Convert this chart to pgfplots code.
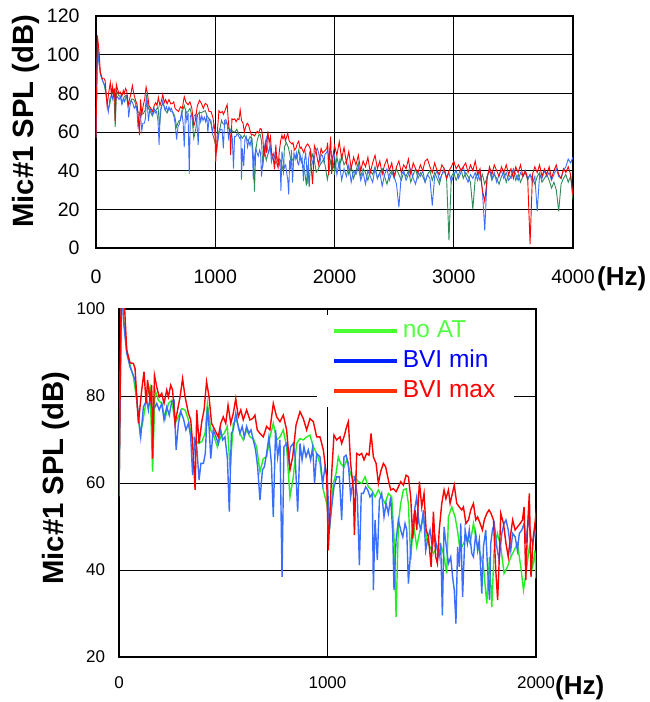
\documentclass[border=0pt]{standalone}
\usepackage{fontspec}
\setmainfont{Liberation Sans}
\usepackage{pgfplots}
\usepackage{pgfplotstable}
\pgfplotsset{compat=1.18}

\definecolor{topred}{HTML}{FF0000}
\definecolor{topblue}{HTML}{3D6EFF}
\definecolor{topgreen}{HTML}{2E8B57}
\definecolor{botgreen}{HTML}{22EE22}
\definecolor{botblue}{HTML}{3A6EFF}
\definecolor{botred}{HTML}{FF0000}
\definecolor{leggreen}{HTML}{4CFF33}
\definecolor{legblue}{HTML}{0022FF}
\definecolor{legred}{HTML}{FF3300}
\definecolor{txtgreen}{HTML}{55FF44}

% spectra, f in Hz, SPL in dB
\pgfplotstableread{
f v
0 57
12 110
25 102
37 90.6
53 87.6
69 87.5
77 86.3
93 73.7
109 81.4
120 85.6
130 78.3
137 83.7
149 79
157 82.5
161 65.6
170 84.8
181 82.1
193 79.8
205 80.6
216 78.3
229 81.4
237 79.8
248 82.5
257 81.4
269 73.7
281 76.8
293 79.8
305 84
317 79.8
333 76
344 74.5
353 69.1
365 58.4
373 76.8
384 69.1
397 74.1
408 76.8
420 83.3
432 79.8
444 73.7
460 72.2
476 70.6
488 73.7
500 75.2
512 73.7
523 77.9
536 73.7
548 76
560 79.4
572 75.2
584 76.8
596 74.5
612 76.8
628 74.5
641 74.8
652 75.6
663 72.2
676 71.4
692 70.6
708 73
724 72.2
740 78.3
756 75.2
772 74.1
788 75.6
804 72.2
820 63
833 66
849 73.3
868 76.4
884 74.8
900 72.2
916 74.8
932 74.1
948 70.6
964 70.6
980 67.6
996 61.4
1004 44.5
1020 62.2
1031 71
1044 69.9
1060 70.6
1068 69.1
1079 70.6
1092 73
1100 74.1
1111 64.5
1124 58.4
1129 48
1140 66.8
1153 66.4
1164 66.8
1175 65.3
1188 66.8
1199 66.4
1209 71.4
1220 66
1233 64.5
1244 59.9
1255 62.6
1268 64.5
1279 63.7
1292 60.7
1303 58.4
1316 58.7
1329 58
1340 59.1
1351 60.3
1364 59.5
1377 61.8
1388 61.4
1399 56.8
1409 47.2
1420 53.8
1428 49.2
1441 60.3
1452 54.5
1463 57.6
1473 49.2
1484 47.6
1497 40.7
1508 53.4
1519 43
1527 41.5
1536 49.2
1548 55.3
1559 58.4
1568 56.4
1580 58.4
1588 55.3
1599 57.6
1608 59.5
1620 55.3
1632 54.5
1644 53.8
1652 54.5
1664 50.7
1676 51.5
1687 53.8
1700 55.3
1711 51.5
1720 52.2
1732 50.7
1743 49.2
1752 51.5
1764 53
1775 53.8
1784 53
1796 51.5
1807 40
1816 33.1
1823 41.5
1831 53
1844 50.7
1856 46.1
1867 43
1879 48.4
1888 51.5
1900 49.2
1911 49.9
1924 50.7
1935 51.5
1943 54.5
1951 37.7
1959 49.2
1968 57.6
1976 38.4
1987 47.6
1995 50.7
2000 53
2020 48
2040 55
2060 46
2080 52
2100 44
2120 50
2140 41
2160 47
2180 43
2200 48
2220 40
2240 45
2260 42
2280 47
2300 39
2320 44
2340 48
2360 41
2380 45
2400 38
2420 43
2440 46
2460 40
2480 44
2500 37
2520 42
2540 45
2560 39
2580 43
2600 41
2620 46
2640 38
2660 44
2680 41
2700 39
2720 43
2740 40
2760 45
2780 46
2800 42
2820 39
2840 44
2860 40
2880 38
2900 43
2920 41
2940 36
2960 40
2980 42
3000 45
3020 41
3040 43
3060 40
3080 42
3100 44
3120 39
3140 43
3160 40
3180 45
3200 38
3220 41
3240 30
3260 24
3280 36
3300 42
3320 38
3340 43
3360 40
3380 37
3400 42
3420 39
3440 43
3460 38
3480 41
3500 36
3520 42
3540 39
3560 43
3580 37
3600 40
3620 36
3640 2
3660 38
3680 42
3700 39
3720 43
3740 37
3760 41
3780 38
3800 42
3820 36
3840 40
3860 43
3880 38
3900 36
3920 41
3940 39
3960 42
3980 38
4000 27
}\redtab

\pgfplotstableread{
f v
0 57
12 107
22 98
37 90.6
53 87.1
69 84.4
85 79
101 71.4
113 73.7
133 79.8
149 82.1
161 62.6
173 81.4
189 79
205 78.3
221 74.8
237 78.3
253 79
269 73.7
285 75.2
301 77.1
317 76.8
333 74.5
349 70.6
365 69.9
381 69.1
397 69.5
413 71.4
424 78.3
440 72.2
456 70.6
472 68.3
488 70.6
504 71.4
520 73
533 63
548 73.7
564 74.5
580 71.4
596 69.9
612 72.2
628 70.6
644 70.2
660 68.3
676 62.6
692 65.6
708 66
724 70.6
740 73.7
756 69.9
772 70.6
788 72.2
804 68.3
820 56.8
836 61.4
852 69.1
868 70.2
884 69.9
900 70.6
916 71
932 68.3
948 66.8
964 64.5
980 58.4
996 55.3
1012 50.7
1028 59.9
1041 62.2
1052 66
1063 64.5
1079 63.7
1092 65.3
1105 63
1116 61.4
1132 61.4
1148 60.3
1164 59.9
1180 61.4
1196 59.1
1212 58.4
1228 56.8
1244 58.4
1260 56.8
1276 55.3
1292 57.6
1308 56.8
1319 47.6
1329 29.2
1340 50.7
1351 55.3
1364 58.4
1377 58.7
1388 55.3
1399 42.3
1412 50.7
1428 45.3
1444 49.2
1460 52.2
1476 46.9
1492 45.3
1508 43.8
1524 45.3
1540 46.1
1556 43.8
1572 39.2
1580 52.2
1596 54.5
1612 52.2
1623 49.2
1636 44.5
1652 46.1
1668 47.6
1684 46.1
1700 50.7
1716 46.1
1732 43.8
1748 40.7
1764 32.3
1777 43
1788 31.5
1799 44.5
1815 48.4
1831 45.3
1847 39.2
1863 40.7
1879 43
1895 44.5
1911 46.1
1927 40.7
1940 35.4
1952 39.2
1968 45.3
1984 40.7
1995 44.5
2000 38
2020 47
2040 41
2060 48
2080 43
2100 45
2120 38
2140 42
2160 36
2180 40
2200 44
2220 37
2240 41
2260 39
2280 35
2300 40
2320 38
2340 42
2360 36
2380 39
2400 41
2420 37
2440 33
2460 38
2480 40
2500 36
2520 41
2540 38
2560 35
2580 39
2600 37
2620 40
2640 34
2660 38
2680 41
2700 36
2720 39
2740 37
2760 34
2780 38
2800 40
2820 35
2840 39
2860 36
2880 33
2900 38
2920 40
2940 36
2960 4
2980 37
3000 39
3020 35
3040 38
3060 41
3080 36
3100 39
3120 37
3140 34
3160 20
3180 36
3200 39
3220 35
3240 38
3260 33
3280 37
3300 40
3320 35
3340 38
3360 36
3380 33
3400 37
3420 39
3440 34
3460 38
3480 36
3500 40
3520 35
3540 38
3560 34
3580 37
3600 39
3620 35
3640 38
3660 36
3680 33
3700 37
3720 39
3740 34
3760 36
3780 38
3800 35
3820 31
3840 34
3860 30
3880 19
3900 33
3920 36
3940 38
3960 34
3980 37
4000 25
}\greentab

\pgfplotstableread{
f v
0 57
12 106
22 97
37 89.8
53 86.7
77 83.7
93 75.2
104 70.6
117 77.5
133 79
141 76.8
149 79.8
161 76.8
173 77.5
181 78.3
193 76.8
205 78.3
216 74.5
229 77.5
241 75.6
253 78.7
264 79
274 67.6
285 73.7
296 76.4
309 74.8
321 72.2
333 73.7
344 70.6
353 61.8
363 69.9
373 68.3
384 60.7
393 64.5
405 64.5
414 66.8
424 77.5
433 72.2
440 65.6
452 72.2
465 70.6
476 69.1
488 72.2
497 69.9
508 70.6
520 65.6
529 53.4
539 71.4
548 72.2
560 76
569 73.7
580 71.4
591 73
601 70.6
612 73
623 71.4
633 72.2
644 69.9
655 67.6
665 63.7
676 56.1
688 63
697 63.7
708 66.8
719 70.6
731 64.5
740 52.2
751 72.2
761 66
772 69.9
782 38.4
791 68.3
804 69.1
814 65.3
823 68.3
836 69.1
845 66
857 53.4
868 69.1
878 65.3
887 68.3
897 66
908 67.6
919 65.3
929 68.3
938 59.9
948 66.8
964 66
977 59.9
988 63.7
999 61.4
1009 49.2
1020 54.5
1031 59.1
1044 61.4
1057 61.4
1068 51.5
1079 66
1089 66.4
1100 64.5
1111 56.8
1121 59.9
1132 61.4
1143 56.8
1153 41.1
1162 57.6
1172 57.6
1183 59.1
1193 58.4
1204 56.8
1215 57.6
1220 35.4
1228 51.5
1239 42.3
1249 56.1
1260 57.6
1271 52.2
1281 55.3
1292 53
1303 56.8
1313 48.4
1319 35.4
1329 46.9
1340 51.5
1351 49.2
1361 47.6
1372 50.7
1380 49.2
1388 36.9
1399 44.5
1409 50.7
1420 54.5
1428 56.8
1439 50.7
1448 49.2
1460 53.8
1471 44.5
1480 46.9
1492 49.2
1503 45.3
1512 48.4
1524 45.3
1535 43
1543 46.1
1551 29.6
1559 49.9
1568 46.1
1580 41.5
1591 43
1600 38.4
1608 35.4
1616 27.7
1624 45.3
1632 40.7
1639 50.7
1648 33.8
1660 49.2
1671 46.1
1680 49.2
1692 43.8
1700 43
1711 48.4
1720 44.5
1728 46.9
1740 34.6
1748 45.3
1759 49.2
1768 40
1777 33.1
1783 46.1
1791 49.2
1800 50.7
1812 45.3
1823 42.3
1836 48.4
1847 50.7
1856 51.5
1867 49.2
1879 44.5
1888 48.4
1900 47.6
1911 44.5
1920 48.4
1932 49.2
1943 50.7
1952 46.1
1964 52.2
1975 47.6
1984 46.1
1995 49.2
2000 48
2020 38
2040 45
2060 35
2080 41
2100 37
2120 43
2140 34
2160 40
2180 38
2200 42
2220 35
2240 39
2260 33
2280 40
2300 37
2320 34
2340 41
2360 36
2380 39
2400 32
2420 38
2440 41
2460 35
2480 39
2500 37
2520 33
2540 21
2560 38
2580 40
2600 35
2620 38
2640 41
2660 36
2680 33
2700 39
2720 37
2740 40
2760 34
2780 38
2800 36
2820 22
2840 37
2860 40
2880 35
2900 38
2920 41
2940 36
2960 39
2980 34
3000 38
3020 40
3040 36
3060 39
3080 42
3100 37
3120 34
3140 38
3160 36
3180 39
3200 35
3220 40
3240 30
3260 9
3280 37
3300 41
3320 36
3340 39
3360 34
3380 38
3400 40
3420 36
3440 39
3460 35
3480 37
3500 41
3520 38
3540 35
3560 39
3580 37
3600 40
3620 36
3640 38
3660 34
3680 37
3700 19
3720 38
3740 36
3760 40
3780 37
3800 39
3820 35
3840 38
3860 41
3880 37
3900 36
3920 40
3940 42
3960 46
3980 44
4000 47
}\bluetab

\pgfplotsset{
  spl/.style={
    scale only axis,
    axis line style={line width=1.6pt},
    grid=major,
    major grid style={black,line width=0.7pt},
    major tick length=0pt,
    /pgf/number format/assume math mode=true,
    /pgf/number format/1000 sep={},
    ylabel={Mic\#1 SPL (dB)},
  },
}

\begin{document}
\begin{tikzpicture}
\useasboundingbox (0,0) rectangle (650pt,702pt);

% upper panel, 0-4000 Hz
\begin{axis}[spl, name=top,
  at={(96pt,454pt)}, anchor=south west,
  width=477pt, height=232pt,
  xmin=0, xmax=4000, ymin=0, ymax=120,
  xtick={0,1000,2000,3000,4000},
  ytick={0,20,40,60,80,100,120},
  ticklabel style={font=\fontsize{19.5}{22}\selectfont},
  xticklabel style={yshift=-18pt},
  yticklabel style={xshift=-13pt},
  every axis y label/.style={at={(axis description cs:-0.132,0.547)},rotate=90,anchor=base,font=\bfseries\fontsize{29.3}{34}\selectfont},
]
\addplot[topgreen,line width=0.9pt] table[x=f,y=v] {\greentab};
\addplot[topblue,line width=0.9pt] table[x=f,y=v] {\bluetab};
\addplot[topred,line width=0.9pt] table[x=f,y=v] {\redtab};
\end{axis}
\node[anchor=base west,font=\bfseries\fontsize{26}{30}\selectfont,inner sep=0pt] at ([xshift=24pt,yshift=-38pt]top.south east) {(Hz)};

% lower panel, 0-2000 Hz
\begin{axis}[spl, name=bot,
  at={(119pt,45pt)}, anchor=south west,
  width=417pt, height=348pt,
  xmin=0, xmax=2000, ymin=20, ymax=100,
  xtick={0,1000,2000},
  ytick={20,40,60,80,100},
  ticklabel style={font=\fontsize{17}{19}\selectfont},
  xticklabel style={yshift=-16.5pt},
  yticklabel style={xshift=-10.5pt},
  every axis y label/.style={at={(axis description cs:-0.132,0.514)},rotate=90,anchor=base,font=\bfseries\fontsize{29.3}{34}\selectfont},
  legend image code/.code={\draw[#1] (0pt,0pt) -- (63pt,0pt);},
  legend cell align=left,
  legend style={at={(rel axis cs:0.475,0.983)},anchor=north west,draw=none,fill=white,
    font=\fontsize{24.5}{27}\selectfont,
    nodes={text height=17.5pt,text depth=4.5pt,inner sep=4pt},
    inner xsep=15pt, inner ysep=1pt},
]
\addplot[botgreen,line width=1.4pt,forget plot] table[x=f,y=v] {\greentab};
\addplot[botblue,line width=1.4pt,forget plot] table[x=f,y=v] {\bluetab};
\addplot[botred,line width=1.4pt,forget plot] table[x=f,y=v] {\redtab};
\addlegendimage{leggreen,line width=3.5pt}
\addlegendentry{\textcolor{txtgreen}{no AT}}
\addlegendimage{legblue,line width=3.5pt}
\addlegendentry{\textcolor{blue}{BVI min}}
\addlegendimage{legred,line width=3.5pt}
\addlegendentry{\textcolor{red}{BVI max}}
\end{axis}
\node[anchor=base west,font=\bfseries\fontsize{26}{30}\selectfont,inner sep=0pt] at ([xshift=19pt,yshift=-37pt]bot.south east) {(Hz)};
\end{tikzpicture}
\end{document}
